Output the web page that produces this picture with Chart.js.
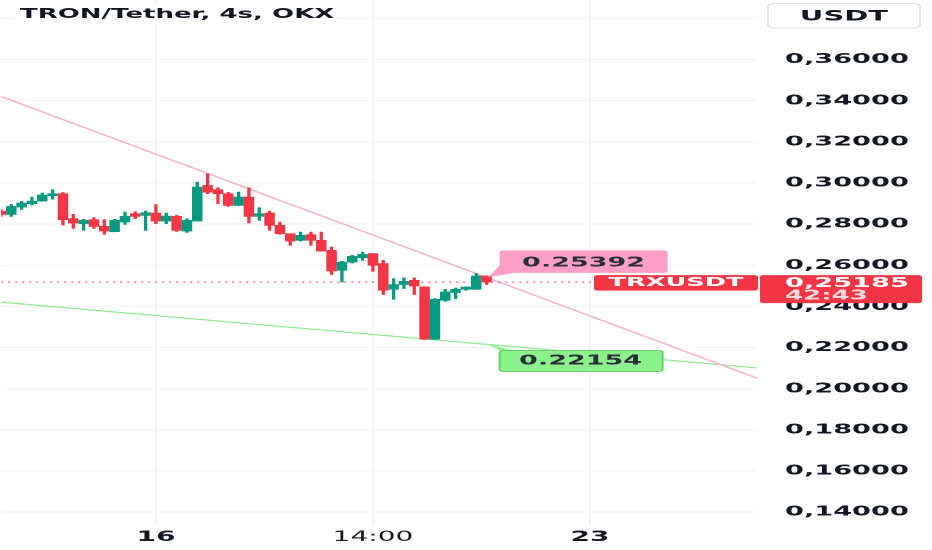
<!DOCTYPE html>
<html>
<head>
<meta charset="utf-8">
<script src="https://cdn.jsdelivr.net/npm/chart.js@4.4.1/dist/chart.umd.min.js"></script>
<style>
  html, body { margin: 0; padding: 0; background: #fff; overflow: hidden; }
  /* the screenshot is stretched 2x horizontally, so is the chart */
  #wrap { width: 466px; height: 550px; transform: scaleX(2); transform-origin: 0 0; }
</style>
</head>
<body>
<div id="wrap"><canvas id="chart"></canvas></div>
<script>
// candle index -1 is the one cut off at the left edge
const firstIndex = -1;
const opens  = [0.28636, 0.28476, 0.28830, 0.28995, 0.29121, 0.29383, 0.29480, 0.28267, 0.28024, 0.28218, 0.27893, 0.27636,
                0.28102, 0.28510, 0.28427, 0.28539, 0.28150, 0.28379, 0.27665, 0.28150, 0.29883, 0.29675, 0.29480, 0.28913,
                0.29316, 0.28379, 0.28539, 0.27942, 0.27539, 0.27214, 0.27490, 0.27214, 0.26728, 0.25757, 0.26160, 0.26374,
                0.26568, 0.26082, 0.24835, 0.25063, 0.25272, 0.24946, 0.22408, 0.24301, 0.24675, 0.24835, 0.24835, 0.25480];
const highs  = [0.28718, 0.28961, 0.29107, 0.29316, 0.29510, 0.29675, 0.29544, 0.28476, 0.28233, 0.28316, 0.28218, 0.28233,
                0.28587, 0.28607, 0.28636, 0.28961, 0.28539, 0.28427, 0.28267, 0.30044, 0.30451, 0.29772, 0.29544, 0.29558,
                0.29772, 0.28801, 0.28636, 0.28102, 0.27539, 0.27617, 0.27617, 0.27617, 0.26888, 0.26194, 0.26485, 0.26646,
                0.26568, 0.26243, 0.25354, 0.25384, 0.25384, 0.24960, 0.24383, 0.24835, 0.24898, 0.24946, 0.25597, 0.25490];
const lows   = [0.28379, 0.28379, 0.28718, 0.28927, 0.29120, 0.29218, 0.27956, 0.27796, 0.27699, 0.27796, 0.27505, 0.27630,
                0.27990, 0.28267, 0.27699, 0.28024, 0.28024, 0.27650, 0.27602, 0.28150, 0.29480, 0.28995, 0.28864, 0.28913,
                0.28053, 0.28184, 0.27699, 0.27505, 0.26971, 0.27180, 0.26971, 0.26694, 0.25549, 0.25189, 0.26111, 0.26243,
                0.25709, 0.24578, 0.24349, 0.24869, 0.24578, 0.22400, 0.22400, 0.24252, 0.24383, 0.24786, 0.24835, 0.25063];
const closes = [0.28476, 0.28864, 0.29024, 0.29121, 0.29413, 0.29480, 0.28218, 0.28053, 0.28184, 0.27893, 0.27665, 0.28184,
                0.28379, 0.28379, 0.28558, 0.28150, 0.28393, 0.27699, 0.28184, 0.29801, 0.29558, 0.29480, 0.28913, 0.29316,
                0.28379, 0.28510, 0.27942, 0.27539, 0.27180, 0.27456, 0.27214, 0.26694, 0.25723, 0.26160, 0.26437, 0.26534,
                0.26000, 0.24786, 0.25063, 0.25223, 0.24995, 0.22408, 0.24349, 0.24704, 0.24835, 0.24946, 0.25480, 0.25185];

const xTickPos    = [14, 35, 56];
const xTickLabels = ['16', '14:00', '23'];
const yTicks      = [0.14, 0.16, 0.18, 0.20, 0.22, 0.24, 0.26, 0.28, 0.30, 0.32, 0.34, 0.36, 0.38];

// trend lines (start / end of each)
const pinkLineX  = [-1, 73];
const pinkLineY  = [0.34210, 0.20359];
const greenLineX = [-1, 73];
const greenLineY = [0.24210, 0.20980];

const lastPrice   = 0.25185;
const countdown   = '42:43';
const symbol      = 'TRXUSDT';
const currency    = 'USDT';
const titleText   = 'TRON/Tether, 4s, OKX';
const pinkLabel   = 0.25392;
const greenLabel  = 0.22154;
const labelAnchor = 46;

const xMin = -0.966, xMax = 72.17;
const yMin = 0.13427, yMax = 0.38864;

const UP = '#089981', DOWN = '#f23645';
const TEXT = '#131722', GRID = '#f0f3fa';
const FAMILY = '"DejaVu Sans", sans-serif';

const idx = opens.map((_, i) => firstIndex + i);
const colors = opens.map((o, i) => closes[i] >= o ? UP : DOWN);
const wickData = idx.map((x, i) => ({ x: x, y: [lows[i], highs[i]] }));
const bodyData = idx.map((x, i) => ({ x: x, y: [Math.min(opens[i], closes[i]), Math.max(opens[i], closes[i])] }));
const toPts = (xs, ys) => xs.map((x, i) => ({ x: x, y: ys[i] }));

function box(ctx, x, y, w, h, r, fill, stroke) {
    ctx.beginPath();
    ctx.roundRect(x, y, w, h, r);
    ctx.fillStyle = fill;
    ctx.fill();
    if (stroke) {
        ctx.strokeStyle = stroke;
        ctx.lineWidth = 1;
        ctx.stroke();
    }
}

// title, currency button, price tags and the line labels
const overlay = {
    id: 'overlay',
    afterDraw(chart) {
        const { ctx, scales: { x, y } } = chart;
        ctx.save();
        ctx.textBaseline = 'middle';

        ctx.font = `bold 13px ${FAMILY}`;
        const tw = ctx.measureText(titleText).width;
        ctx.fillStyle = 'rgba(255,255,255,0.92)';
        ctx.fillRect(8, 4, tw + 4, 20);
        ctx.fillStyle = TEXT;
        ctx.textAlign = 'left';
        ctx.fillText(titleText, 10, 14.5);

        box(ctx, 384, 3.5, 76, 24.5, 3, '#ffffff', '#e0e3eb');
        ctx.fillStyle = TEXT;
        ctx.textAlign = 'center';
        ctx.font = `bold 14.5px ${FAMILY}`;
        ctx.fillText(currency, 422, 16.5);

        const py = y.getPixelForValue(lastPrice);
        box(ctx, 297, py - 7, 82, 15.5, 2, DOWN);
        ctx.fillStyle = '#ffffff';
        ctx.font = `bold 12.8px ${FAMILY}`;
        ctx.fillText(symbol, 338, py + 0.8);

        box(ctx, 380, py - 7, 81, 28, 2, DOWN);
        ctx.textAlign = 'left';
        ctx.font = `bold 13.6px ${FAMILY}`;
        ctx.fillStyle = '#ffffff';
        ctx.fillText(lastPrice.toFixed(5).replace('.', ','), 392.5, py + 1.5);
        ctx.font = `bold 13px ${FAMILY}`;
        ctx.fillStyle = 'rgba(255,255,255,0.82)';
        ctx.fillText(countdown, 392.5, py + 14);

        const ax = x.getPixelForValue(labelAnchor);
        ctx.textAlign = 'center';
        ctx.font = `bold 13.5px ${FAMILY}`;

        let ay = y.getPixelForValue(pinkLabel);
        ctx.beginPath();
        ctx.moveTo(ax + 0.5, ay - 0.5);
        ctx.lineTo(ax + 7, ay - 13);
        ctx.lineTo(ax + 14, ay - 5);
        ctx.closePath();
        ctx.fillStyle = '#ff9fc6';
        ctx.fill();
        box(ctx, ax + 6.5, ay - 27.5, 84, 22.5, 2, '#ff9fc6');
        ctx.fillStyle = '#2a2e39';
        ctx.fillText(pinkLabel.toFixed(5), ax + 48.5, ay - 15);

        ay = y.getPixelForValue(greenLabel);
        ctx.beginPath();
        ctx.moveTo(ax + 0.5, ay - 0.5);
        ctx.lineTo(ax + 7, ay + 6.5);
        ctx.lineTo(ax + 14, ay + 6.5);
        ctx.closePath();
        ctx.fillStyle = '#8cf28c';
        ctx.fill();
        box(ctx, ax + 6.5, ay + 6, 81.5, 21, 2, '#8cf28c', '#66d066');
        ctx.fillStyle = '#2a2e39';
        ctx.fillText(greenLabel.toFixed(5), ax + 47, ay + 16.5);

        ctx.restore();
    }
};

new Chart(document.getElementById('chart'), {
    type: 'bar',
    data: {
        datasets: [
            { type: 'bar', data: bodyData, backgroundColor: colors, barThickness: 4.6, minBarLength: 1, grouped: false, order: 1 },
            { type: 'bar', data: wickData, backgroundColor: colors, barThickness: 1, grouped: false, order: 2 },
            { type: 'line', data: toPts([xMin, xMax], [lastPrice, lastPrice]), borderColor: DOWN, borderWidth: 1,
              borderDash: [1, 2.5], pointRadius: 0, order: 3 },
            { type: 'line', data: toPts(pinkLineX, pinkLineY), borderColor: '#f7b2cb', borderWidth: 1.3, pointRadius: 0, order: 4 },
            { type: 'line', data: toPts(greenLineX, greenLineY), borderColor: '#90ec90', borderWidth: 1.3, pointRadius: 0, order: 5 }
        ]
    },
    options: {
        responsive: true,
        maintainAspectRatio: false,
        devicePixelRatio: 2,
        animation: false,
        events: [],
        layout: { padding: 0 },
        plugins: { legend: { display: false }, tooltip: { enabled: false } },
        scales: {
            x: {
                type: 'linear', min: xMin, max: xMax, offset: false,
                grid: { color: GRID, drawTicks: false, offset: false },
                border: { display: false },
                afterBuildTicks: s => { s.ticks = xTickPos.map(v => ({ value: v })); },
                afterFit: s => { s.height = 26; s.paddingLeft = 0; s.paddingRight = 0; },
                ticks: {
                    autoSkip: false, maxRotation: 0, padding: 5, color: TEXT,
                    font: c => ({ family: FAMILY, size: 14, weight: c.index === 1 ? 'normal' : 'bold' }),
                    callback: (v, i) => xTickLabels[i]
                }
            },
            y: {
                position: 'right', min: yMin, max: yMax,
                grid: { color: GRID, drawTicks: false },
                border: { display: false },
                afterBuildTicks: s => { s.ticks = yTicks.map(v => ({ value: v })); },
                afterFit: s => { s.width = 87.5; s.paddingTop = 0; s.paddingBottom = 0; },
                ticks: {
                    autoSkip: false, padding: 14, color: TEXT,
                    font: { family: FAMILY, size: 13.6, weight: 'bold' },
                    callback: v => v.toFixed(5).replace('.', ',')
                }
            }
        }
    },
    plugins: [overlay]
});
</script>
</body>
</html>
